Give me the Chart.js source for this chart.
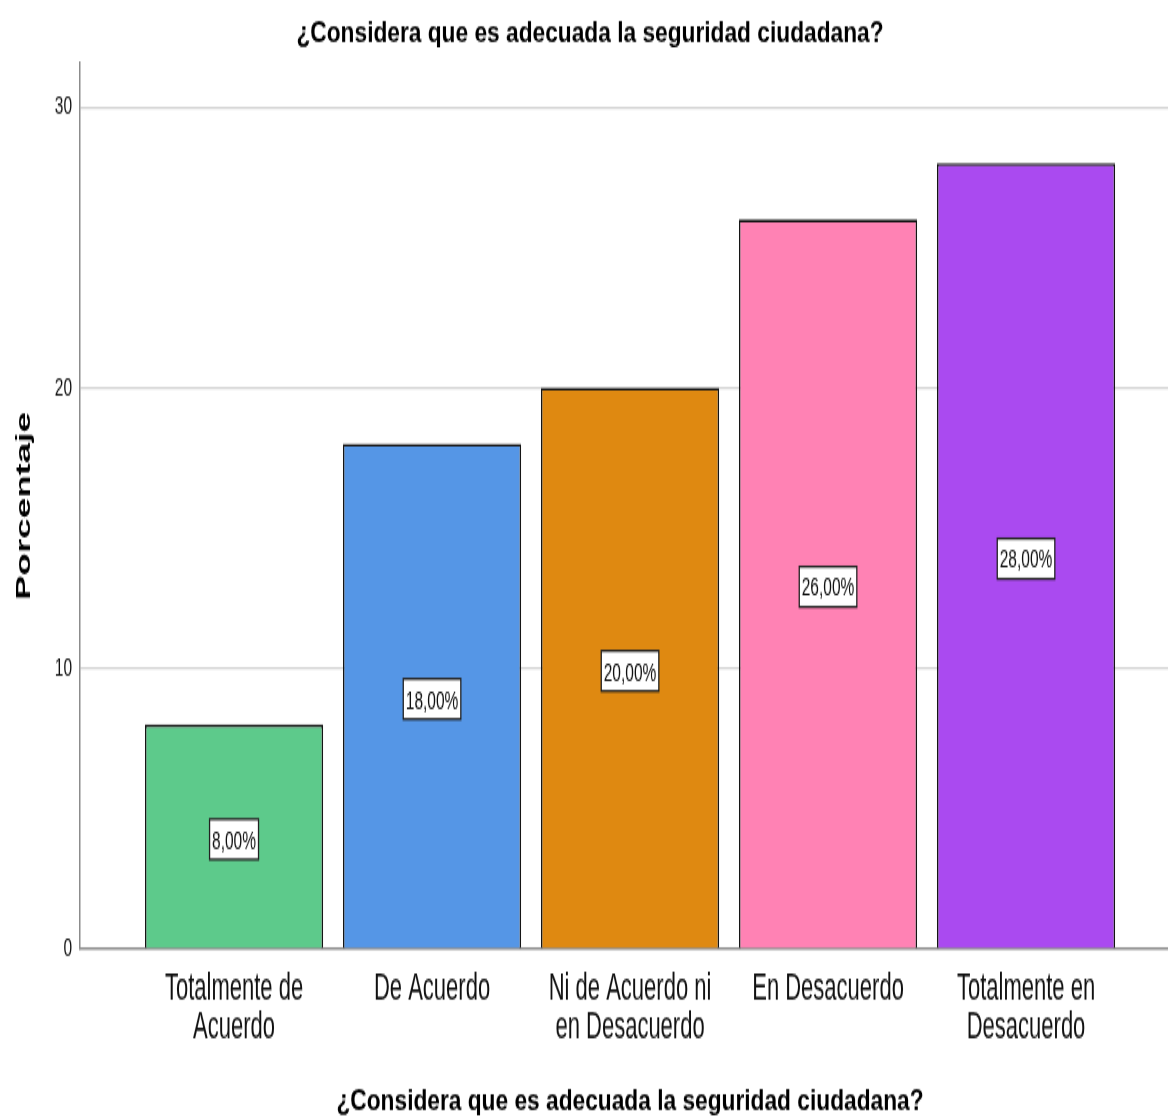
<!DOCTYPE html>
<html>
<head>
<title>Seguridad ciudadana</title>
<meta charset="UTF-8">
<script src="https://cdn.jsdelivr.net/npm/chart.js"></script>
<style>
body { margin: 0; background: #fff; }
</style>
</head>
<body>
<!-- el lienzo se estira en vertical como la imagen original -->
<canvas id="grafico" width="1168" height="638" style="display:block;width:1168px;height:1117px"></canvas>
<script>
const titulo = '¿Considera que es adecuada la seguridad ciudadana?';
const categorias = [['Totalmente de', 'Acuerdo'], ['De Acuerdo'], ['Ni de Acuerdo ni', 'en Desacuerdo'], ['En Desacuerdo'], ['Totalmente en', 'Desacuerdo']];
const porcentajes = [8, 18, 20, 26, 28];
const colores = ['#5dca8b', '#5596e6', '#df8911', '#ff82b4', '#aa4af0'];
const ticksY = [0, 10, 20, 30];

const fuente = "'Liberation Sans', Arial, sans-serif";

// caja blanca con el porcentaje en el centro de cada barra
const etiquetas = {
  id: 'etiquetas',
  afterDatasetsDraw(chart) {
    const ctx = chart.ctx;
    const y = chart.scales.y;
    ctx.save();
    ctx.font = "15.5px " + fuente;
    ctx.textAlign = 'center';
    ctx.textBaseline = 'middle';
    chart.getDatasetMeta(0).data.forEach((bar, i) => {
      let txt = porcentajes[i].toFixed(2).replace('.', ',') + '%';
      let w = ctx.measureText(txt).width + 5;
      let h = 23;
      let cy = y.getPixelForValue(porcentajes[i] / 2) + 1.5;
      ctx.fillStyle = '#fff';
      ctx.fillRect(bar.x - w / 2, cy - h / 2, w, h);
      ctx.strokeStyle = '#222';
      ctx.lineWidth = 1.3;
      ctx.strokeRect(bar.x - w / 2, cy - h / 2, w, h);
      ctx.fillStyle = '#111';
      ctx.fillText(txt, bar.x, cy + 1);
    });
    ctx.restore();
  }
};

// titulos en negrita un poco ensanchados (arriba y debajo del eje x)
const titulos = {
  id: 'titulos',
  afterDraw(chart) {
    const ctx = chart.ctx;
    const a = chart.chartArea;
    const escribir = (txt, cx, cy) => {
      ctx.save();
      ctx.translate(cx, cy);
      ctx.scale(1.42, 1);
      ctx.fillText(txt, 0, 0);
      ctx.restore();
    };
    ctx.save();
    ctx.font = "bold 16px " + fuente;
    ctx.fillStyle = '#000';
    ctx.textAlign = 'center';
    ctx.textBaseline = 'middle';
    escribir(titulo, chart.width / 2 + 6, 20);
    escribir(titulo, (a.left + a.right) / 2 + 6, 629.5);
    ctx.restore();
  }
};

new Chart(document.getElementById('grafico'), {
  type: 'bar',
  data: {
    datasets: [{
      data: porcentajes.map((v, i) => ({ x: i, y: v })),
      backgroundColor: colores,
      borderColor: '#151515',
      borderWidth: 1.6,
      barPercentage: 0.9,
      categoryPercentage: 1
    }]
  },
  options: {
    responsive: false,
    animation: false,
    devicePixelRatio: 1,
    layout: { padding: { top: 36, left: 0, right: 0, bottom: 0 } },
    plugins: {
      legend: { display: false },
      tooltip: { enabled: false },
      title: { display: false }
    },
    scales: {
      x: {
        type: 'linear', min: -0.778, max: 4.717, offset: false,
        afterBuildTicks: s => { s.ticks = categorias.map((c, i) => ({ value: i })); },
        afterFit: s => { s.height = 96; },
        grid: { display: false, drawTicks: false },
        border: { color: '#8c8c8c', width: 1.5 },
        ticks: {
          padding: 12.5, color: '#111', maxRotation: 0, autoSkip: false,
          font: { family: fuente, size: 22, lineHeight: 0.98 },
          callback: v => categorias[v]
        }
      },
      y: {
        min: 0, max: 31.57,
        afterBuildTicks: s => { s.ticks = ticksY.map(v => ({ value: v })); },
        afterFit: s => { s.width = 80; },
        grid: {
          drawTicks: false, lineWidth: 1.2,
          color: c => (c.tick && c.tick.value === 0) ? 'rgba(0,0,0,0)' : '#d3d3d3'
        },
        border: { color: '#8c8c8c', width: 1.5 },
        ticks: { padding: 8, color: '#111', font: { family: fuente, size: 15.5 } },
        title: {
          display: true, text: 'Porcentaje', color: '#000',
          font: { family: fuente, size: 21, weight: 'bold', lineHeight: 1 },
          padding: { top: 14, bottom: 0 }
        }
      }
    }
  },
  plugins: [etiquetas, titulos]
});
</script>
</body>
</html>
